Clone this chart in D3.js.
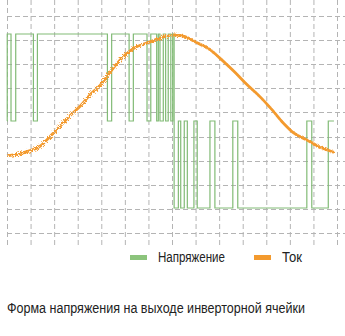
<!DOCTYPE html>
<html>
<head>
<meta charset="utf-8">
<script src="https://cdn.jsdelivr.net/npm/d3@7"></script>
<style>
  body { margin: 0; background: #fff; }
  svg { display: block; }
  text { font-family: "Liberation Sans Narrow", "Liberation Sans", Arial, sans-serif; fill: #222; }
</style>
</head>
<body>
<script>
var width = 345,
    height = 336;

// PWM voltage: switching instants (grid units) and the level after each one
var vTimes  = [0, 0.01, 0.17, 0.37, 1.12, 1.29, 4.26, 4.44, 5.18, 5.36, 5.94, 6.10, 6.35, 6.42, 6.49, 6.63, 6.73, 6.84, 6.95, 7.03,
               7.09, 7.27, 7.37, 7.52, 7.65, 7.93, 8.07, 8.61, 8.82, 9.58, 9.79, 12.72, 12.93, 13.63, 13.87];
var vLevels = [0, 1, 0, 1, 0, 1, 0, 1, 0, 1, 0, 1, 0, 1, 0, 1, 0, 1, 0, 1,
               -1, 0, -1, 0, -1, 0, -1, 0, -1, 0, -1, 0, -1, 0, 0];

// current samples
var iTimes  = [0, 0.47, 0.98, 1.40, 1.82, 2.25, 2.67, 3.10, 3.52, 3.95, 4.37, 4.79, 5.35, 6.07, 6.70, 7.13,
               7.55, 7.98, 8.61, 9.04, 9.67, 10.10, 10.73, 11.24, 11.71, 12.13, 12.73, 13.28, 13.87];
var iValues = [-0.40, -0.38, -0.34, -0.29, -0.18, -0.06, 0.06, 0.17, 0.30, 0.41, 0.56, 0.70, 0.83, 0.91, 0.97, 0.99,
               0.97, 0.91, 0.82, 0.72, 0.56, 0.44, 0.28, 0.13, -0.02, -0.13, -0.22, -0.30, -0.36];

var xTicks = d3.range(0, 15),   // vertical grid lines
    yRows  = d3.range(0, 10);   // horizontal grid lines

var seriesNames  = ["Напряжение", "Ток"],
    seriesColors = ["#8cc47c", "#f39a2e"];

var title = "Форма напряжения на выходе инверторной ячейки";

var svg = d3.select("body").append("svg")
    .attr("width", width)
    .attr("height", height);

var x  = d3.scaleLinear().domain([0, 14]).range([7, 337]),
    gy = d3.scaleLinear().domain([0, 9]).range([16, 233]),
    vy = d3.scaleLinear().domain([-1, 1]).range([208, 34]);

// rough edge for the noisy current trace
var filt = svg.append("defs").append("filter")
    .attr("id", "rough")
    .attr("x", "-5%").attr("y", "-5%").attr("width", "110%").attr("height", "110%");
filt.append("feTurbulence")
    .attr("type", "fractalNoise")
    .attr("baseFrequency", 1.2)
    .attr("numOctaves", 2)
    .attr("result", "noise");
filt.append("feDisplacementMap")
    .attr("in", "SourceGraphic")
    .attr("in2", "noise")
    .attr("scale", 5);

// grid
svg.append("g").selectAll("line")
  .data(xTicks)
  .enter().append("line")
    .attr("x1", function(d){ return x(d) + 0.5 })
    .attr("x2", function(d){ return x(d) + 0.5 })
    .attr("y1", 0)
    .attr("y2", 246)
    .attr("stroke", "#b4b4b4")
    .attr("stroke-dasharray", "5,3");

svg.append("g").selectAll("line")
  .data(yRows)
  .enter().append("line")
    .attr("x1", 7)
    .attr("x2", width)
    .attr("y1", function(d){ return Math.round(gy(d)) + 0.5 })
    .attr("y2", function(d){ return Math.round(gy(d)) + 0.5 })
    .attr("stroke", "#b4b4b4")
    .attr("stroke-dasharray", "5,3");

// voltage
var vData = vTimes.map(function(t, i){ return [t, vLevels[i]] });
svg.append("path")
    .datum(vData)
    .attr("fill", "none")
    .attr("stroke", "#82bb76")
    .attr("stroke-width", 1.2)
    .attr("d", d3.line()
        .x(function(d){ return x(d[0]) })
        .y(function(d){ return vy(d[1]) })
        .curve(d3.curveStepAfter));

// current
var iData = iTimes.map(function(t, i){ return [t, iValues[i]] });
svg.append("path")
    .datum(iData)
    .attr("fill", "none")
    .attr("stroke", seriesColors[1])
    .attr("stroke-width", 2.8)
    .attr("filter", "url(#rough)")
    .attr("d", d3.line()
        .x(function(d){ return x(d[0]) })
        .y(function(d){ return vy(d[1]) })
        .curve(d3.curveMonotoneX));

// legend
var legend = svg.append("g").selectAll("g")
  .data(seriesNames)
  .enter().append("g")
    .attr("transform", function(d, i){ return "translate(" + [130, 254][i] + ",0)" });

legend.append("rect")
    .attr("x", 0)
    .attr("y", 255)
    .attr("width", 17)
    .attr("height", 5)
    .attr("fill", function(d, i){ return seriesColors[i] });

legend.append("text")
    .attr("x", 28)
    .attr("y", 262)
    .attr("textLength", function(d, i){ return [67, 20][i] })
    .attr("lengthAdjust", "spacingAndGlyphs")
    .style("font-size", "14px")
    .text(function(d){ return d });

svg.append("text")
    .attr("x", 7)
    .attr("y", 313)
    .attr("textLength", 298)
    .attr("lengthAdjust", "spacingAndGlyphs")
    .style("font-size", "14px")
    .text(title);
</script>
</body>
</html>
